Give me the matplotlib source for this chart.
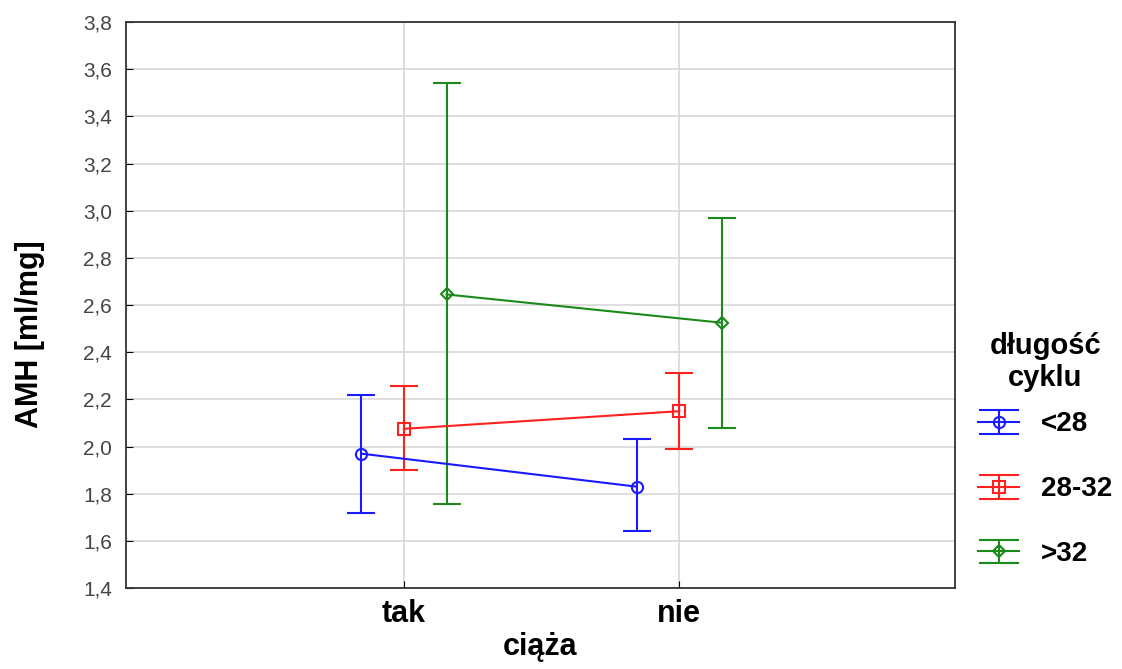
import numpy as np
import matplotlib
matplotlib.use("Agg")
import matplotlib.pyplot as plt
from matplotlib.legend_handler import HandlerErrorbar

plt.rcParams['font.family'] = ['Liberation Sans', 'DejaVu Sans']

categories = ['tak', 'nie']
groups = ['<28', '28-32', '>32']
means = {'<28': [1.97, 1.83], '28-32': [2.075, 2.15], '>32': [2.645, 2.525]}
lower = {'<28': [1.72, 1.64], '28-32': [1.90, 1.99], '>32': [1.755, 2.08]}
upper = {'<28': [2.22, 2.03], '28-32': [2.255, 2.31], '>32': [3.54, 2.97]}

colors = {'<28': '#1a1aff', '28-32': '#ff2020', '>32': '#1a8a1a'}
markers = {'<28': 'o', '28-32': 's', '>32': 'D'}
msizes = {'<28': 8, '28-32': 8, '>32': 6}
offsets = {'<28': -0.155, '28-32': 0.0, '>32': 0.155}


class WideCaps(HandlerErrorbar):
    # caps in the legend span the whole handle, like in the original
    def create_artists(self, legend, orig_handle, xdescent, ydescent,
                       width, height, fontsize, trans):
        arts = super().create_artists(legend, orig_handle, xdescent, ydescent,
                                      width, height, fontsize, trans)
        for a in arts:
            if hasattr(a, 'get_marker') and a.get_marker() == '_':
                a.set_markersize(width)
        return arts


fig = plt.figure(figsize=(11.22, 6.69), dpi=100)
ax = fig.add_axes([0.112, 0.121, 0.739, 0.846])

x = np.arange(len(categories))
for g in groups:
    m = np.array(means[g])
    err = [m - np.array(lower[g]), np.array(upper[g]) - m]
    ax.errorbar(x + offsets[g], m, yerr=err, color=colors[g], marker=markers[g],
                markersize=msizes[g], markerfacecolor='none',
                markeredgewidth=1.5, linewidth=1.5, capsize=10, capthick=1.5,
                elinewidth=1.5, label=g)

ax.set_xlim(-1.01, 2.0)
ax.set_ylim(1.4, 3.8)
yt = np.arange(1.4, 3.81, 0.2)
ax.set_yticks(yt)
ax.set_yticklabels([f"{v:.1f}".replace('.', ',') for v in yt],
                   color='#444444', fontsize=15)
ax.set_xticks(x)
ax.set_xticklabels(categories, fontsize=22, fontweight='bold')
ax.tick_params(axis='y', direction='in', length=5, pad=10)
ax.tick_params(axis='x', direction='in', length=5, pad=8)
ax.grid(True, color='#d8d8d8', linewidth=1.2)
ax.set_axisbelow(True)
for s in ax.spines.values():
    s.set_color('#333333')
    s.set_linewidth(1.3)

ax.set_xlabel('ciąża', fontsize=22, fontweight='bold', labelpad=2)
ax.set_ylabel('AMH [ml/mg]', fontsize=22, fontweight='bold')
ax.yaxis.set_label_coords(-0.097, 0.449)

leg = ax.legend(title='długość\ncyklu', loc='center left', bbox_to_anchor=(1.015, 0.245),
                frameon=False, prop={'size': 20, 'weight': 'bold'},
                title_fontproperties={'size': 21, 'weight': 'bold'},
                labelspacing=1.4, handlelength=1.45, handletextpad=0.8,
                borderaxespad=0, borderpad=0.4,
                handler_map={type(ax.containers[0]): WideCaps(yerr_size=0.43)})
leg.get_title().set_multialignment('center')
leg._legend_box.sep = 14

fig.savefig('out.png', dpi=100)
